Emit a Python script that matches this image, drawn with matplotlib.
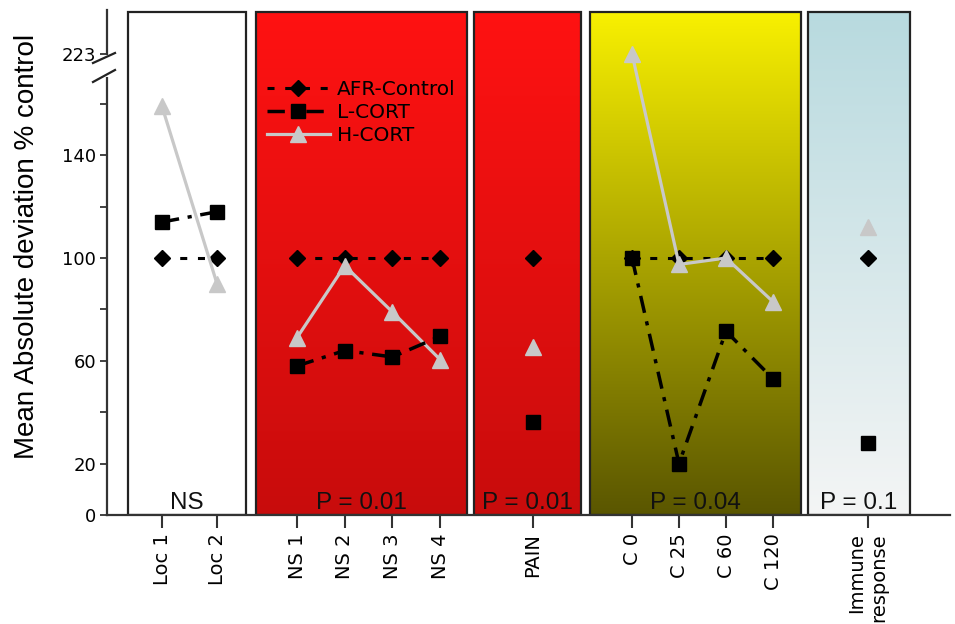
import numpy as np
import matplotlib.pyplot as plt
from matplotlib.colors import LinearSegmentedColormap
from matplotlib.patches import Rectangle

categories = ["Loc 1", "Loc 2", "NS 1", "NS 2", "NS 3", "NS 4", "PAIN",
              "C 0", "C 25", "C 60", "C 120", "Immune\nresponse"]
group_sizes = [2, 4, 1, 4, 1]
afr_control = [100, 100, 100, 100, 100, 100, 100, 100, 100, 100, 100, 100]
l_cort = [114, 118, 58, 64, 61.5, 69.5, 36, 100, 20, 71.5, 53, 28]
h_cort = [159, 90, 69, 97, 79, 60.5, 65.5, 223, 97.5, 100, 83, 112]
p_labels = ["NS", "P = 0.01", "P = 0.01", "P = 0.04", "P = 0.1"]
y_ticks = [0, 20, 40, 60, 80, 100, 120, 140, 160, 223]
y_ticklabels = ["0", "20", "", "60", "", "100", "", "140", "", "223"]

# layout, x in pixel-like units
panel_edges = [(128, 246), (256, 467), (474, 581), (590, 801), (808, 910)]
first_offset = [34, 41, 59, 42, 60]
step = [55, 47.7, 0, 47, 0]
panel_colors = [("#ffffff", "#ffffff"), ("#c80c0c", "#ff1212"),
                ("#c80c0c", "#ff1212"), ("#5a5600", "#f8f000"),
                ("#f4f5f5", "#b8dadf")]
XMIN, XMAX = 107, 950
TOP = 196.5      # display units of the linear background
PANEL_TOP = 195.7

# broken y axis: compress everything above 170
BRK = 170
K = 9.5 / 53


def fwd(y):
    y = np.asarray(y, dtype=float)
    return np.where(y <= BRK, y, BRK + (y - BRK) * K)


def inv(y):
    y = np.asarray(y, dtype=float)
    return np.where(y <= BRK, y, BRK + (y - BRK) / K)


x_pos = []
for (l, r), off, st, n in zip(panel_edges, first_offset, step, group_sizes):
    x_pos += [l + off + i * st for i in range(n)]

fig = plt.figure(figsize=(9.55, 6.24), dpi=100)
rect = [XMIN / 955, 1 - 515 / 624, (XMAX - XMIN) / 955, 505 / 624]

# background panels with gradients
bg = fig.add_axes(rect, zorder=0)
bg.set_xlim(XMIN, XMAX)
bg.set_ylim(0, TOP)
bg.axis("off")
grad = np.linspace(0, 1, 256).reshape(-1, 1)
for (l, r), (c_bot, c_top) in zip(panel_edges, panel_colors):
    cmap = LinearSegmentedColormap.from_list("g", [c_bot, c_top])
    bg.imshow(grad, cmap=cmap, extent=(l, r, 0, PANEL_TOP), origin="lower",
              aspect="auto", interpolation="bilinear")
    bg.add_patch(Rectangle((l, 0), r - l, PANEL_TOP, fill=False,
                           edgecolor="#222222", lw=1.6))

ax = fig.add_axes(rect, zorder=1)
ax.patch.set_visible(False)
ax.set_yscale("function", functions=(fwd, inv))
ax.set_xlim(XMIN, XMAX)
ax.set_ylim(0, float(inv(TOP)))

start = 0
for gi, n in enumerate(group_sizes):
    sl = slice(start, start + n)
    xs = x_pos[sl]
    ax.plot(xs, afr_control[sl], color="black", lw=2.2, dashes=(2.3, 3.5),
            marker="D", ms=8, zorder=3, label="AFR-Control" if gi == 0 else None)
    ax.plot(xs, h_cort[sl], color="#c8c8c8", lw=2.3, marker="^", ms=11,
            zorder=4, label="H-CORT" if gi == 0 else None)
    ax.plot(xs, l_cort[sl], color="black", lw=2.5, dashes=(5, 2.5, 1.2, 2.5),
            marker="s", ms=9.5, zorder=5, label="L-CORT" if gi == 0 else None)
    start += n

for (l, r), txt in zip(panel_edges, p_labels):
    ax.text((l + r) / 2, 2.5, txt, ha="center", va="baseline", fontsize=17.5,
            family="Liberation Sans", color="#111111", zorder=6)

handles, labels = ax.get_legend_handles_labels()
order = [labels.index(s) for s in ["AFR-Control", "L-CORT", "H-CORT"]]
ax.legend([handles[i] for i in order], [labels[i] for i in order],
          loc="upper left", bbox_to_anchor=(0.19, 0.862), frameon=False,
          borderpad=0, borderaxespad=0, handlelength=3.1, handletextpad=0.35,
          labelspacing=0.2, fontsize=14.5, numpoints=1)

ax.set_xticks(x_pos)
ax.set_xticklabels(categories, rotation=90, fontsize=14, multialignment="right")
ax.set_yticks(y_ticks)
ax.set_yticklabels(y_ticklabels, fontsize=13)
ax.tick_params(axis="x", length=9, width=1.5, color="#333333", pad=4)
ax.tick_params(axis="y", length=5, width=1.3, color="#333333", pad=3)
ax.minorticks_off()

for s in ["top", "right"]:
    ax.spines[s].set_visible(False)
for s in ["left", "bottom"]:
    ax.spines[s].set_linewidth(1.6)
    ax.spines[s].set_color("#333333")

# axis break marks
def to_ax(px, py):
    return (px - XMIN) / (XMAX - XMIN), (515 - py) / 505


y_gap = [to_ax(0, 58)[1], to_ax(0, 73)[1]]
ax.plot([0, 0], y_gap, color="white", lw=5, transform=ax.transAxes,
        clip_on=False, zorder=7)
for (x1, y1), (x2, y2) in [((93, 63), (115, 53)), ((93, 82), (115, 70))]:
    a1, b1 = to_ax(x1, y1)
    a2, b2 = to_ax(x2, y2)
    ax.plot([a1, a2], [b1, b2], color="#222222", lw=1.6, transform=ax.transAxes,
            clip_on=False, zorder=8)

fig.text(27 / 955, 1 - 246 / 624, "Mean Absolute deviation % control",
         rotation=90, ha="center", va="center", fontsize=20,
         family="Liberation Sans")

fig.savefig("out.png", dpi=100)
